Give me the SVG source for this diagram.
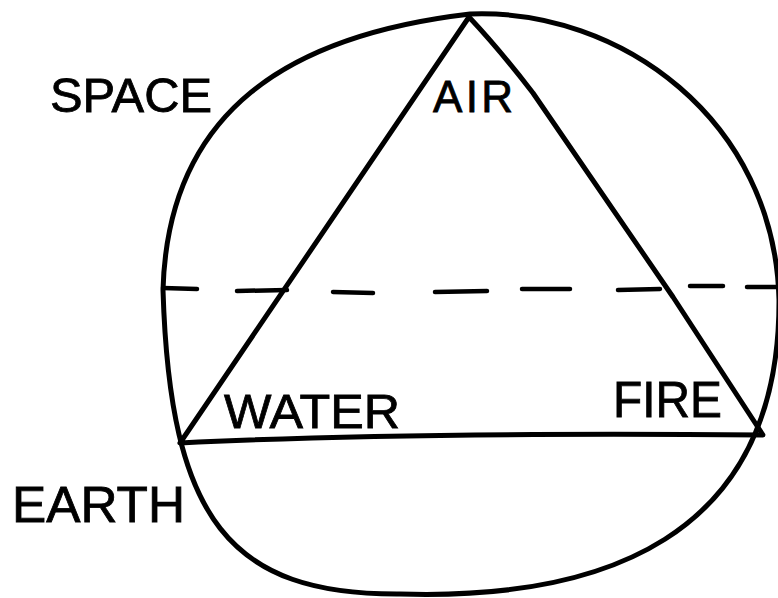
<svg xmlns="http://www.w3.org/2000/svg" width="778" height="598" viewBox="0 0 778 598">
<style>
.ink{fill:none;stroke:#000;stroke-width:5;stroke-linecap:round;stroke-linejoin:round}
.dash{fill:none;stroke:#000;stroke-width:4.5;stroke-linecap:round}
.lbl{font-family:"Liberation Sans",Arial,sans-serif;fill:#000;stroke:#000;stroke-width:0.8;font-weight:normal}
</style>
<rect width="778" height="598" fill="#fff"/>
<g id="circle">
<path class="ink" d="M163,290 C168,110 290,35 470,14 C620,8 775,120 779,300 C780,540 600,600 400,594 C230,595 170,520 163,290 Z"/>
</g>
<g id="triangle">
<path class="ink" d="M469,17 L180,443 Q400,432 763,435 L673,297 L533,93 Q500,50 469,17 Z"/>
</g>
<g id="divider">
<path class="dash" d="M163,288 L197,289 M237,291 L287,290 M333,292 L373,293 M435,292 L487,291 M522,289 L570,289 M618,290 L660,289 M690,286 L723,286 M747,287 L778,287"/>
</g>
<g id="labels">
<text class="lbl" x="50" y="112" font-size="48" textLength="162" lengthAdjust="spacingAndGlyphs">SPACE</text>
<text class="lbl" x="433" y="112" font-size="44" textLength="80" lengthAdjust="spacing">AIR</text>
<text class="lbl" x="224" y="428" font-size="49" textLength="176" lengthAdjust="spacingAndGlyphs">WATER</text>
<text class="lbl" x="613" y="417" font-size="50" textLength="109" lengthAdjust="spacingAndGlyphs">FIRE</text>
<text class="lbl" x="12" y="522" font-size="50" textLength="173" lengthAdjust="spacingAndGlyphs">EARTH</text>
</g>
</svg>
